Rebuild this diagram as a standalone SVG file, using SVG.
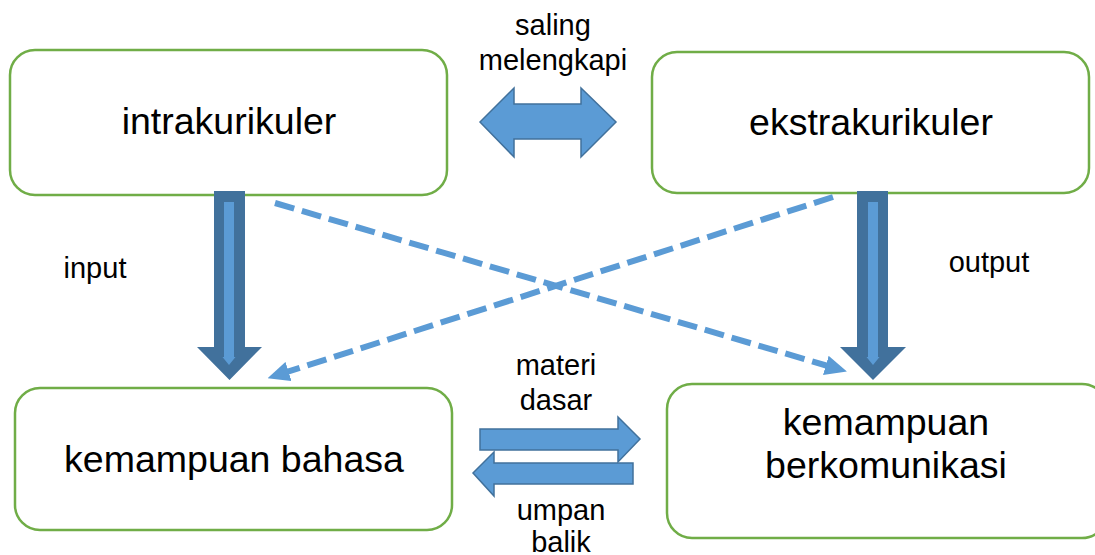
<svg xmlns="http://www.w3.org/2000/svg" width="1095" height="555" viewBox="0 0 1095 555">
<style>
.box{fill:#fff;stroke:#70AD47;stroke-width:2.5}
.big{font-family:"Liberation Sans",Arial,sans-serif;font-size:37.5px;fill:#000;text-anchor:middle}
.small{font-family:"Liberation Sans",Arial,sans-serif;font-size:29px;fill:#000;text-anchor:middle}
.dash{stroke:#5B9BD5;stroke-width:6;stroke-dasharray:20 8;fill:none}
.blk{fill:#5B9BD5;stroke:#41719C;stroke-width:1.5}
.dark{fill:#41719C}
.light{fill:#5B9BD5}
</style>
<defs>
<marker id="ah" viewBox="0 0 22 20" refX="10" refY="10" markerWidth="22" markerHeight="20" markerUnits="userSpaceOnUse" orient="auto">
<path d="M0,0 L22,10 L0,20 Z" fill="#5B9BD5"/>
</marker>
</defs>
<g id="intrakurikuler">
<rect class="box" x="10" y="50" width="437" height="145" rx="25"/>
<text class="big" x="229" y="134">intrakurikuler</text>
</g>
<g id="ekstrakurikuler">
<rect class="box" x="652" y="52" width="437" height="141" rx="25"/>
<text class="big" x="871" y="135">ekstrakurikuler</text>
</g>
<g id="kemampuan-bahasa">
<rect class="box" x="15" y="388" width="437" height="142" rx="25"/>
<text class="big" x="234" y="472">kemampuan bahasa</text>
</g>
<g id="kemampuan-berkomunikasi">
<rect class="box" x="667" y="384" width="440" height="154" rx="25"/>
<text class="big" x="886" y="435">kemampuan</text>
<text class="big" x="886" y="478">berkomunikasi</text>
</g>
<g id="connectors">
<line class="dash" x1="275" y1="203" x2="835.4" y2="368.2" marker-end="url(#ah)"/>
<line class="dash" x1="833" y1="197" x2="279" y2="374.5" marker-end="url(#ah)"/>
<path class="dark" d="M214,191 H245 V347 H262 L229.5,380 L197,347 H214 Z"/>
<path class="light" d="M224,202 H234 V357 H235.5 L229,365 L222.5,357 H224 Z"/>
<path class="dark" d="M857,191 H888 V347 H906 L873,380 L840,347 H857 Z"/>
<path class="light" d="M868,202 H878 V357 H879.5 L873,365 L866.5,357 H868 Z"/>
<path class="blk" d="M480,122 L514,88 V104 H581 V88 L616,122 L581,157 V139 H514 V157 Z"/>
<path class="blk" d="M480,429 H618 V417 L640,439 L618,462 V450 H480 Z"/>
<path class="blk" d="M633,463 H494 V452 L473,473 L494,496 V484 H633 Z"/>
</g>
<g id="labels">
<text class="small" x="553" y="35">saling</text>
<text class="small" x="553" y="70">melengkapi</text>
<text class="small" x="95" y="278">input</text>
<text class="small" x="989" y="272">output</text>
<text class="small" x="556" y="375">materi</text>
<text class="small" x="556" y="410">dasar</text>
<text class="small" x="561" y="520">umpan</text>
<text class="small" x="561" y="552">balik</text>
</g>
</svg>
